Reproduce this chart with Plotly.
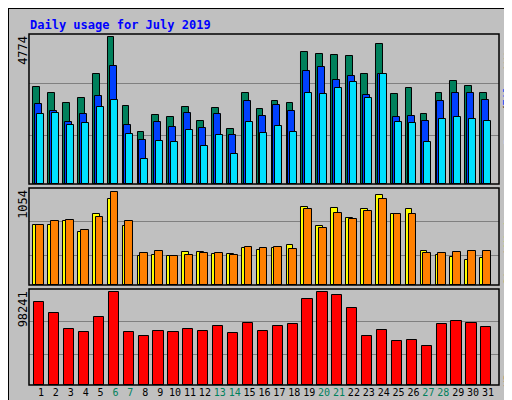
import plotly.graph_objects as go

# ### DATA ###
days = list(range(1, 32))
weekend = [6, 7, 13, 14, 20, 21, 27, 28]
hits = [3150, 2956, 2631, 2793, 3573, 4774, 2533, 1689, 2241, 2176, 2501, 2046, 2468, 1786, 2956, 2436,
        2696, 2631, 4287, 4222, 4190, 4157, 3573, 4547, 2923, 3118, 2274, 2956, 3345, 3183, 2956]
files = [2598, 2371, 2014, 2274, 2858, 3833, 1916, 1429, 2014, 1851, 2306, 1819, 2274, 1592, 2696, 2209,
         2566, 2371, 3670, 3800, 3378, 3508, 2891, 3573, 2176, 2209, 2046, 2696, 2956, 2956, 2728]
pages = [2274, 2306, 1916, 1981, 2501, 2728, 1624, 812, 1397, 1364, 1754, 1234, 1592, 974, 2014, 1656,
         1884, 1689, 2956, 2923, 3118, 3313, 2793, 3573, 2014, 1981, 1364, 2111, 2176, 2111, 2046]
visits = [686, 686, 732, 606, 813, 974, 675, 330, 341, 330, 376, 376, 353, 353, 422, 399,
          422, 456, 882, 675, 870, 767, 859, 1020, 813, 859, 387, 341, 318, 284, 307]
sites = [686, 732, 744, 629, 778, 1054, 732, 364, 387, 330, 341, 364, 364, 341, 433, 422,
         433, 410, 859, 652, 824, 755, 836, 974, 813, 813, 364, 364, 376, 387, 387]
kbytes = [87474, 76719, 59511, 56285, 72417, 98241, 56285, 51983, 57360, 56285, 59511, 57360, 62738, 55209, 65964, 57360,
          62738, 64889, 90701, 98241, 95003, 82097, 51983, 58436, 46605, 47681, 41228, 64889, 68115, 65964, 61662]

FONT = "DejaVu Sans Mono"
BG = "#C0C0C0"
XR = [0.195, 31.74]

fig = go.Figure()

def bar(y, color, axis, offset, width):
    fig.add_trace(go.Bar(x=days, y=y, marker_color=color, marker_line_color="black", marker_line_width=1,
                         offset=offset, width=width, xaxis="x" + axis, yaxis="y" + axis, showlegend=False))

bar(hits, "#00805C", "", -0.52, 0.45)
bar(files, "#0040FF", "", -0.4, 0.47)
bar(pages, "#00E0FF", "", -0.27, 0.47)
bar(visits, "#FFFF00", "2", -0.52, 0.45)
bar(sites, "#FF8000", "2", -0.33, 0.52)
bar(kbytes, "#FF0000", "3", -0.45, 0.68)

ticktext = [f"<span style='color:#00805C'>{d}</span>" if d in weekend else str(d) for d in days]
common_x = dict(range=XR, showgrid=False, zeroline=False, domain=[0.041, 0.959], fixedrange=True)
common_y = dict(showticklabels=False, gridcolor="#808080", gridwidth=1, zeroline=False, ticks="")

fig.update_layout(
    width=512, height=400, margin=dict(l=0, r=0, t=0, b=0),
    paper_bgcolor=BG, plot_bgcolor=BG, barmode="overlay", bargap=0,
    font=dict(family=FONT, size=11, color="black"),
    xaxis=dict(**common_x, anchor="y", showticklabels=False),
    xaxis2=dict(**common_x, anchor="y2", showticklabels=False),
    xaxis3=dict(**common_x, anchor="y3", tickvals=days, ticktext=ticktext, tickangle=0,
                tickfont=dict(size=10), ticks=""),
    yaxis=dict(**common_y, domain=[0.56, 0.935], range=[0, 4871], tickvals=[1591, 3248]),
    yaxis2=dict(**common_y, domain=[0.3075, 0.55], range=[0, 1103], tickvals=[341, 720]),
    yaxis3=dict(**common_y, domain=[0.0575, 0.2975], range=[0, 101740], tickvals=[32535, 67500]),
)

# panel frames
for y0, y1 in [(0.56, 0.935), (0.3075, 0.55), (0.0575, 0.2975)]:
    fig.add_shape(type="rect", xref="paper", yref="paper", x0=0.041, x1=0.959, y0=y0, y1=y1,
                  line=dict(color="black", width=1.5))
# outer frame + shadow
fig.add_shape(type="rect", xref="paper", yref="paper", x0=0.987, x1=1, y0=0, y1=0.99, fillcolor="#808080",
              line_width=0, layer="below")
fig.add_shape(type="rect", xref="paper", yref="paper", x0=0.01, x1=1, y0=0, y1=0.015, fillcolor="#808080",
              line_width=0, layer="below")
fig.add_shape(type="rect", xref="paper", yref="paper", x0=0, x1=1, y0=0, y1=1, line=dict(color="black", width=2))

fig.add_annotation(text="<b>Daily usage for July 2019</b>", x=20 / 512, y=1 - 8 / 400, xref="paper", yref="paper",
                   xanchor="left", yanchor="top", showarrow=False, font=dict(color="#0000FF", size=12))

for label, ytop in [("4774", 0.935), ("1054", 0.55), ("98241", 0.2975)]:
    fig.add_annotation(text=label, textangle=-90, x=0.03, y=ytop, xref="paper", yref="paper",
                       xanchor="center", yanchor="top", showarrow=False, font=dict(size=12))

# right side legend words (rotated), pixel centers
right = [("Pages", "#00E0FF", 121), ("/", "black", 101), ("Files", "#0040FF", 82), ("/", "black", 62),
         ("Hits", "#00805C", 43), ("Sites", "#FF8000", 261), ("/", "black", 246), ("Visits", "#FFFF00", 219),
         ("KBytes", "#FF0000", 359)]
for txt, col, py in right:
    fig.add_annotation(text=txt, textangle=-90, x=500 / 512, y=1 - py / 400, xref="paper", yref="paper",
                       xanchor="center", yanchor="middle", showarrow=False, font=dict(size=11, color=col))

fig.write_html("out.html")
